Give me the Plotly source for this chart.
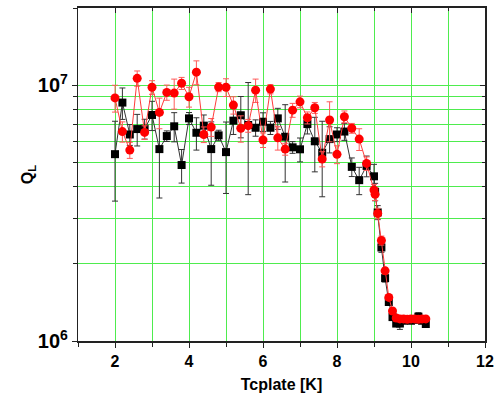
import plotly.graph_objects as go

# Temperature of the cavity plate [K]
t_black = [2.0, 2.2, 2.4, 2.6, 2.8, 3.0, 3.2, 3.4, 3.6, 3.8, 4.0, 4.2, 4.4, 4.6, 4.8,
           5.0, 5.2, 5.4, 5.6, 5.8, 6.0, 6.2, 6.4, 6.6, 6.8, 7.0, 7.2, 7.4, 7.6, 7.8,
           8.0, 8.2, 8.4, 8.6, 8.8, 9.0, 9.03, 9.1, 9.2, 9.3, 9.4, 9.5, 9.6, 9.7, 9.8,
           9.9, 10.0, 10.1, 10.2, 10.3, 10.4]
q_black = [5.37e6, 8.54e6, 6.41e6, 6.73e6, 6.75e6, 7.64e6, 5.62e6, 6.32e6, 6.90e6, 4.87e6,
           7.41e6, 6.51e6, 6.94e6, 5.62e6, 6.36e6, 5.47e6, 7.26e6, 7.62e6, 6.98e6, 6.81e6,
           7.19e6, 6.81e6, 7.41e6, 6.28e6, 5.71e6, 5.61e6, 7.04e6, 6.03e6, 5.44e6, 6.15e6,
           6.41e6, 6.58e6, 4.79e6, 4.25e6, 4.83e6, 4.40e6, 3.83e6, 3.18e6, 2.32e6, 1.76e6,
           1.42e6, 1.24e6, 1.17e6, 1.17e6, 1.20e6, 1.21e6, 1.20e6, 1.21e6, 1.245e6, 1.20e6,
           1.165e6]
err_black = [1.85e6, 1.2e6, 0.6e6, 0.95e6, 0.6e6, 1.0e6, 2.0e6, 0.3e6, 0.9e6, 0.73e6,
             0.4e6, 0.94e6, 0.7e6, 1.56e6, 0.3e6, 1.7e6, 0.85e6, 1.4e6, 3.25e6, 0.5e6,
             0.6e6, 0.4e6, 0.7e6, 2.1e6, 0.3e6, 0.6e6, 0.6e6, 1.45e6, 1.78e6, 0.72e6,
             0.4e6, 0.5e6, 0.4e6, 0.52e6, 0.45e6, 0.5e6, 0.3e6, 0.2e6, 0.1e6, 0.06e6,
             0.04e6, 0.03e6, 0.03e6, 0.06e6, 0.03e6, 0.03e6, 0.03e6, 0.03e6, 0.045e6, 0.03e6,
             0.03e6]

t_red = [2.0, 2.2, 2.4, 2.6, 2.8, 3.0, 3.2, 3.4, 3.6, 3.8, 4.0, 4.2, 4.4, 4.6, 4.8,
         5.0, 5.2, 5.4, 5.6, 5.8, 6.0, 6.2, 6.4, 6.6, 6.8, 7.0, 7.2, 7.4, 7.6, 7.8,
         8.0, 8.2, 8.4, 8.6, 8.8, 9.0, 9.03, 9.1, 9.2, 9.3, 9.4, 9.5, 9.6, 9.7, 9.8,
         9.9, 10.0, 10.1, 10.2, 10.3, 10.4]
q_red = [8.91e6, 6.58e6, 5.57e6, 1.062e7, 6.53e6, 9.80e6, 7.82e6, 9.36e6, 9.30e6, 1.016e7,
         9.00e6, 1.123e7, 6.41e6, 6.85e6, 9.82e6, 9.80e6, 8.35e6, 6.78e6, 6.94e6, 9.55e6,
         6.10e6, 9.64e6, 6.22e6, 5.62e6, 7.98e6, 8.60e6, 7.45e6, 8.15e6, 5.14e6, 7.30e6,
         5.36e6, 7.52e6, 6.78e6, 6.15e6, 4.94e6, 3.89e6, 3.74e6, 3.15e6, 2.47e6, 1.88e6,
         1.48e6, 1.31e6, 1.23e6, 1.22e6, 1.22e6, 1.215e6, 1.22e6, 1.22e6, 1.215e6, 1.22e6,
         1.22e6]
err_red = [1.07e6, 0.6e6, 0.4e6, 0.73e6, 0.4e6, 0.6e6, 1.07e6, 0.64e6, 1.25e6, 0.55e6,
           0.8e6, 1.2e6, 0.45e6, 0.55e6, 0.4e6, 0.78e6, 0.65e6, 0.8e6, 0.4e6, 1.0e6,
           0.4e6, 0.4e6, 0.65e6, 0.3e6, 0.5e6, 0.45e6, 0.4e6, 0.4e6, 0.35e6, 1.3e6,
           0.43e6, 0.4e6, 0.3e6, 0.6e6, 0.3e6, 0.2e6, 0.2e6, 0.15e6, 0.1e6, 0.05e6,
           0.04e6, 0.03e6, 0.02e6, 0.02e6, 0.02e6, 0.02e6, 0.02e6, 0.02e6, 0.02e6, 0.02e6,
           0.02e6]

x_range = [1, 12]
y_major = [1e6, 1e7]
y_major_text = ["<b>10<sup>6</sup></b>", "<b>10<sup>7</sup></b>"]
y_minor = [2e6, 3e6, 4e6, 5e6, 6e6, 7e6, 8e6, 9e6, 2e7]

GRID = "#4eec4e"
AXIS = "#222222"
FONT = "Liberation Sans, Arial, sans-serif"

fig = go.Figure()

fig.add_trace(go.Scatter(
    x=t_black, y=q_black, mode="lines+markers",
    line=dict(color="#333333", width=1),
    marker=dict(symbol="square", size=8, color="black"),
    error_y=dict(type="data", array=err_black, color="#333333", thickness=1, width=3),
    showlegend=False,
))
fig.add_trace(go.Scatter(
    x=t_red, y=q_red, mode="lines+markers",
    line=dict(color="#ff3b3b", width=1),
    marker=dict(symbol="circle", size=9, color="#ff0000"),
    error_y=dict(type="data", array=err_red, color="#ff5a5a", thickness=1, width=3),
    showlegend=False,
))
# helper trace so the mirrored top/right axes are drawn
fig.add_trace(go.Scatter(
    x=[x_range[0]], y=[y_major[0]], xaxis="x2", yaxis="y2", mode="markers",
    marker=dict(opacity=0), hoverinfo="skip", showlegend=False,
))

fig.update_layout(
    width=502, height=405,
    margin=dict(l=78, r=10, t=8, b=64),
    paper_bgcolor="white", plot_bgcolor="white",
    font=dict(family=FONT, color="black"),
    xaxis=dict(
        range=x_range, tick0=0, dtick=2,
        ticks="outside", ticklen=5, tickwidth=1.2, tickcolor=AXIS,
        tickfont=dict(size=16, weight="bold", family=FONT),
        showgrid=True, gridcolor=GRID, gridwidth=1,
        minor=dict(dtick=1, ticks="outside", ticklen=4, tickcolor=AXIS,
                   showgrid=True, gridcolor=GRID, gridwidth=1),
        showline=True, linecolor=AXIS, linewidth=1.8,
        zeroline=False,
        title=dict(text="Tcplate [K]", font=dict(size=16, weight="bold", family=FONT),
                   standoff=10),
    ),
    yaxis=dict(
        type="log", range=[6, 7.30103],
        tickmode="array", tickvals=y_major, ticktext=y_major_text,
        ticks="outside", ticklen=5, tickwidth=1.2, tickcolor=AXIS,
        tickfont=dict(size=20, family=FONT),
        showgrid=True, gridcolor=GRID, gridwidth=1,
        minor=dict(tickmode="array", tickvals=y_minor, ticks="outside", ticklen=4,
                   tickcolor=AXIS, showgrid=True, gridcolor=GRID, gridwidth=1),
        showline=True, linecolor=AXIS, linewidth=1.2,
        zeroline=False,
        title=dict(text="<b>Q<sub>L</sub></b>", font=dict(size=16, family=FONT),
                   standoff=0),
    ),
    xaxis2=dict(
        overlaying="x", side="top", anchor="y", range=x_range, tick0=0, dtick=2,
        ticks="inside", ticklen=5, tickwidth=1.2, tickcolor=AXIS,
        minor=dict(dtick=1, ticks="inside", ticklen=3, tickcolor=AXIS),
        showticklabels=False, showgrid=False, zeroline=False,
        showline=True, linecolor=AXIS, linewidth=2,
    ),
    yaxis2=dict(
        overlaying="y", side="right", anchor="x", type="log", range=[6, 7.30103],
        tickmode="array", tickvals=y_major,
        ticks="inside", ticklen=5, tickwidth=1.2, tickcolor=AXIS,
        minor=dict(tickmode="array", tickvals=y_minor, ticks="inside", ticklen=3,
                   tickcolor=AXIS),
        showticklabels=False, showgrid=False, zeroline=False,
        showline=True, linecolor=AXIS, linewidth=1.5,
    ),
)

fig.write_html("out.html")
